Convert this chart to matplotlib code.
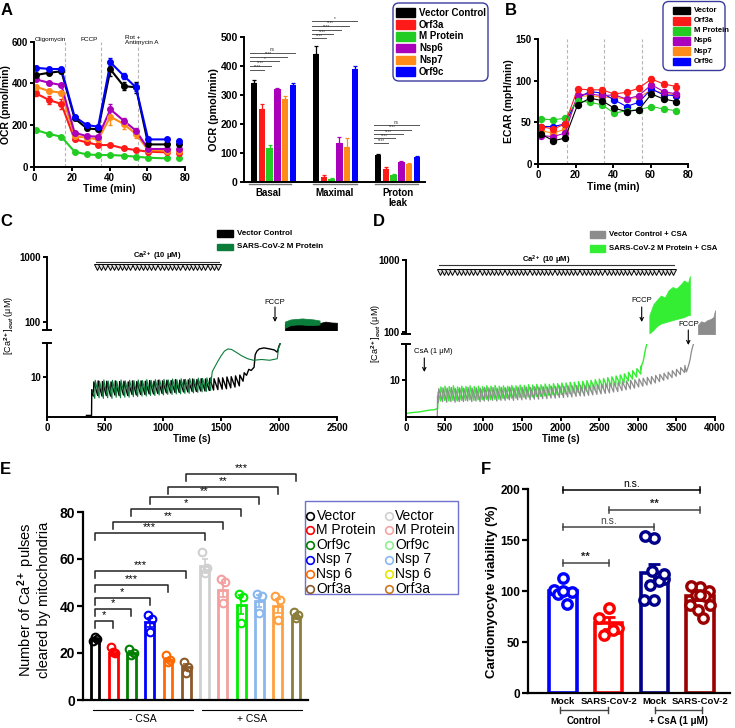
import numpy as np
import matplotlib
matplotlib.use("Agg")
import matplotlib.pyplot as plt
from matplotlib.patches import FancyBboxPatch, Rectangle
from matplotlib.ticker import NullLocator

plt.rcParams['font.family'] = ['Liberation Sans', 'DejaVu Sans']
plt.rcParams['font.weight'] = 'bold'
plt.rcParams['axes.labelweight'] = 'bold'
plt.rcParams['mathtext.fontset'] = 'custom'
plt.rcParams['mathtext.rm'] = 'Liberation Sans'
plt.rcParams['mathtext.bf'] = 'Liberation Sans:bold'
plt.rcParams['mathtext.it'] = 'Liberation Sans:italic'

# ======================= DATA =======================
# Panel A (OCR time course)
A_time = [1, 8, 14.5, 21.5, 28, 34, 40.5, 47.5, 54, 60.5, 70.5, 77]
A_names = ['Vector Control', 'Orf3a', 'M Protein', 'Nsp6', 'Nsp7', 'Orf9c']
A_colors = ['#000000', '#ff1a1a', '#22cc22', '#aa00bb', '#ff8c1a', '#0000ff']
ocr_vector = [440, 451, 458, 232, 184, 179, 467, 387, 381, 107, 107, 107]
ocr_orf3a = [352, 320, 301, 131, 117, 104, 104, 88, 80, 72, 69, 67]
ocr_mprot = [176, 157, 144, 72, 59, 56, 56, 53, 48, 43, 40, 40]
ocr_nsp6 = [419, 403, 392, 163, 147, 144, 275, 221, 173, 85, 85, 85]
ocr_nsp7 = [384, 363, 355, 147, 139, 131, 240, 205, 157, 80, 77, 77]
ocr_orf9c = [475, 469, 469, 240, 200, 192, 501, 437, 381, 131, 131, 125]
ocr_err_vector = [10, 8, 8, 10, 10, 10, 30, 20, 25, 8, 8, 8]
ocr_err_orf3a = [15, 20, 25, 8, 8, 6, 6, 5, 5, 5, 5, 5]
ocr_err_mprot = [5, 5, 5, 4, 4, 4, 4, 3, 3, 3, 3, 3]
ocr_err_nsp6 = [8, 6, 6, 8, 8, 8, 25, 15, 15, 6, 5, 5]
ocr_err_nsp7 = [10, 8, 10, 8, 8, 8, 40, 25, 20, 6, 5, 5]
ocr_err_orf9c = [8, 6, 6, 10, 8, 8, 20, 15, 20, 10, 8, 8]
A_injections = [16.5, 35.5, 55]

# Panel A (bars)
A_groups = ['Basal', 'Maximal', 'Proton\nleak']
bar_basal = [339, 249, 115, 318, 285, 334]
bar_maximal = [442, 17, 9, 134, 121, 388]
bar_proton = [91, 45, 22, 69, 61, 84]
err_basal = [10, 18, 10, 6, 10, 5]
err_maximal = [25, 5, 3, 20, 30, 10]
err_proton = [4, 4, 3, 3, 3, 4]
sig_basal = ['****', '****', '*', '****', 'ns']
sig_maximal = ['****', '****', '****', '****', '*']
sig_proton = ['****', '****', '****', '****', 'ns']
sig_basal_y = [385, 400, 415, 430, 445]
sig_maximal_y = [494, 508, 523, 538, 553]
sig_proton_y = [132, 149, 164, 180, 195]

# Panel B (ECAR)
B_time = [1.4, 8.2, 14.4, 21.1, 27.7, 34.2, 40.6, 47.2, 53.7, 60.5, 67, 73.8]
B_names = ['Vector', 'Orf3a', 'M Protein', 'Nsp6', 'Nsp7', 'Orf9c']
ecar_vector = [36, 28, 31, 71, 79, 76, 67, 63, 65, 84, 78, 75]
ecar_orf3a = [45, 42, 48, 90, 89, 89, 84, 86, 91, 102, 96, 93]
ecar_mprot = [54, 53, 55, 76, 74, 71, 61, 64, 65, 69, 66, 64]
ecar_nsp6 = [34, 33, 37, 83, 84, 82, 83, 78, 82, 95, 87, 84]
ecar_nsp7 = [40, 37, 42, 81, 82, 80, 80, 78, 80, 89, 85, 83]
ecar_orf9c = [45, 45, 48, 79, 87, 85, 77, 69, 74, 90, 83, 82]
ecar_err_orf3a = [3, 3, 3, 3, 3, 3, 3, 3, 3, 4, 4, 4]
B_injections = [15.6, 35.3, 55.2]

# Panel C (Ca2+ retention, M protein vs vector)
C_pulse_start, C_pulse_step = 400, 37
C_black_pre_t = [340, 384, 386]
C_black_pre_y = [2.5, 2.5, 6.3]
C_black_peaks = [8.3, 8.6, 8.4, 8.5, 8.3, 8.6, 8.4, 8.5, 8.3, 8.6, 8.4, 8.6, 8.5, 8.7, 8.5, 8.8, 8.6, 8.8,
                 8.7, 9.0, 8.8, 9.0, 8.9, 9.2, 9.0, 9.3, 9.2, 9.4, 9.3, 9.6, 9.6, 9.9, 10.0, 10.3, 10.6]
C_black_troughs = [5.0, 5.1, 5.0, 5.1, 5.0, 5.2, 5.1, 5.2, 5.1, 5.3, 5.2, 5.3, 5.3, 5.4, 5.4, 5.5, 5.5, 5.6,
                   5.6, 5.7, 5.7, 5.8, 5.8, 5.9, 5.9, 6.0, 6.0, 6.1, 6.2, 6.3, 6.4, 6.5, 6.7, 6.9, 7.2]
C_black_tail_t = [1690, 1700, 1720, 1740, 1760, 1785, 1795, 1810, 1830, 1870, 1920, 1960, 1985, 2000, 2020, 2035]
C_black_tail_y = [8.5, 11.5, 10.5, 13, 12.5, 14, 22, 25, 27, 28, 27, 26, 24, 30, 36, 42]
C_green_pre_t = [396]
C_green_pre_y = [5.8]
C_green_peaks = [8.8, 8.5, 8.9, 8.6, 8.8, 8.5, 8.9, 8.6, 8.8, 8.7, 8.9, 8.7, 9.0, 8.8, 9.0, 8.9, 9.1, 8.9,
                 9.2, 9.0, 9.3, 9.1, 9.4, 9.2, 9.5, 9.4, 9.6, 9.8]
C_green_troughs = [4.6, 4.7, 4.6, 4.7, 4.6, 4.8, 4.7, 4.8, 4.8, 4.9, 4.9, 5.0, 5.0, 5.1, 5.1, 5.2, 5.2, 5.3,
                   5.3, 5.4, 5.4, 5.5, 5.5, 5.6, 5.7, 5.8, 5.9, 6.1]
C_green_tail_t = [1415, 1425, 1440, 1470, 1500, 1530, 1560, 1590, 1630, 1680, 1730, 1780, 1850, 1920, 1985, 1995, 2020, 2035]
C_green_tail_y = [8.5, 12, 13.5, 17, 21, 25, 27, 26.5, 24, 21, 19, 18, 18.5, 18, 19, 27, 36, 42]
C_black_band_t = [2050, 2100, 2150, 2200, 2250, 2300, 2350, 2400, 2450, 2500]
C_black_band_lo = [70, 70, 70, 70, 70, 70, 70, 70, 70, 70]
C_black_band_hi = [92, 98, 95, 100, 96, 98, 95, 100, 97, 96]
C_green_band_t = [2050, 2100, 2150, 2200, 2250, 2300, 2350]
C_green_band_lo = [80, 88, 90, 90, 88, 88, 90]
C_green_band_hi = [100, 108, 110, 112, 110, 108, 104]
C_n_marks, C_marks_range = 30, (431, 1474)

# Panel D (with CsA)
D_pulse_step = 54
D_green_start, D_gray_start = 447, 420
D_green_pre_t = [0, 60, 120, 180, 240, 300, 360, 410, 415]
D_green_pre_y = [3.4, 3.5, 3.55, 3.6, 3.7, 3.8, 3.85, 4.0, 6.8]
D_green_peaks = [8.0, 8.2, 8.1, 8.3, 8.0, 8.2, 8.1, 8.3, 8.1, 8.2,
                 8.1, 8.3, 8.2, 8.4, 8.2, 8.3, 8.2, 8.4, 8.3, 8.5,
                 8.4, 8.6, 8.5, 8.7, 8.6, 8.8, 8.7, 8.9, 8.9, 9.1,
                 9.1, 9.3, 9.3, 9.5, 9.6, 9.8, 9.9, 10.1, 10.3, 10.5,
                 10.8, 11.1, 11.4, 11.8, 12.2, 12.8, 13.5, 14.4, 15.7]
D_green_troughs = [5.1, 5.2, 5.1, 5.2, 5.1, 5.2, 5.2, 5.3, 5.2, 5.3,
                   5.3, 5.4, 5.3, 5.4, 5.4, 5.5, 5.5, 5.6, 5.6, 5.7,
                   5.7, 5.8, 5.8, 5.9, 5.9, 6.0, 6.1, 6.2, 6.2, 6.3,
                   6.4, 6.5, 6.6, 6.7, 6.8, 7.0, 7.1, 7.3, 7.5, 7.7,
                   7.9, 8.2, 8.5, 8.8, 9.2, 9.7, 10.3, 11.0, 12.1]
D_green_tail_t = [3040, 3055, 3070, 3085, 3100, 3115, 3125]
D_green_tail_y = [14, 16.5, 18, 22, 27, 31, 36]
D_green_band_t = [3150, 3200, 3250, 3300, 3350, 3400, 3450, 3500, 3550, 3600, 3650, 3675]
D_green_band_lo = [95, 105, 120, 130, 135, 140, 145, 150, 155, 160, 170, 170]
D_green_band_hi = [170, 240, 280, 320, 300, 380, 420, 400, 450, 520, 480, 600]
D_gray_pre_t = [405, 408]
D_gray_pre_y = [2.9, 6.0]
D_gray_peaks = [7.6, 7.8, 7.7, 7.9, 7.6, 7.8, 7.7, 7.9, 7.7, 7.8,
                7.7, 7.9, 7.8, 7.9, 7.7, 7.9, 7.8, 8.0, 7.8, 8.0,
                7.9, 8.0, 7.9, 8.1, 8.0, 8.1, 8.0, 8.2, 8.1, 8.3,
                8.2, 8.3, 8.3, 8.4, 8.4, 8.5, 8.5, 8.6, 8.7, 8.8,
                8.9, 9.0, 9.2, 9.3, 9.5, 9.7, 9.9, 10.1, 10.4, 10.6,
                10.9, 11.2, 11.6, 12.0, 12.4, 12.9, 13.5, 14.1, 14.9, 16.0]
D_gray_troughs = [4.9, 5.0, 4.9, 5.0, 4.9, 5.0, 5.0, 5.1, 5.0, 5.1,
                  5.0, 5.1, 5.1, 5.2, 5.1, 5.2, 5.2, 5.3, 5.2, 5.3,
                  5.3, 5.4, 5.3, 5.4, 5.4, 5.5, 5.5, 5.6, 5.6, 5.7,
                  5.7, 5.8, 5.8, 5.9, 6.0, 6.0, 6.1, 6.2, 6.3, 6.4,
                  6.5, 6.6, 6.8, 6.9, 7.1, 7.3, 7.5, 7.7, 8.0, 8.2,
                  8.5, 8.8, 9.1, 9.5, 9.9, 10.3, 10.8, 11.3, 11.9, 12.7]
D_gray_tail_t = [3630, 3650, 3665, 3680, 3695, 3710, 3730]
D_gray_tail_y = [13, 15, 17, 20, 25, 29, 34]
D_gray_band_t = [3780, 3820, 3860, 3900, 3940, 3980, 4000]
D_gray_band_lo = [92, 92, 92, 92, 92, 92, 92]
D_gray_band_hi = [125, 140, 135, 145, 150, 160, 200]
D_n_marks, D_marks_range = 57, (440, 3458)

# Panel E (Ca2+ pulses cleared)
E_names = ['Vector', 'M Protein', 'Orf9c', 'Nsp 7', 'Nsp 6', 'Orf3a']
E_colors = ['#000000', '#ff0000', '#008000', '#0000ff', '#ff6a00', '#8b5a2b',
            '#d0d0d0', '#f4a0a0', '#00ee00', '#8ab8ee', '#ffa040', '#8b7d3a']
E_legend_colors2 = ['#d0d0d0', '#f4a4a4', '#90ee90', '#8ab8ee', '#e6e600', '#c87820']
E_bars = [26, 20, 20, 33, 17, 14, 57, 47, 40.5, 42, 40, 35.5]
E_sem = [0.5, 1, 1, 2, 1, 1.3, 3, 3, 4, 2.5, 3, 1]
E_points = [[25, 26, 27], [22.7, 19.9, 20.5], [21.5, 20, 19], [36, 34.3, 29.1], [19, 17, 16],
            [16.3, 14.2, 11.6], [63, 56, 54.2], [51.3, 50.3, 41.1], [45.1, 44, 32.9],
            [44.9, 44.3, 37.2], [44.3, 42.6, 34], [37.6, 36.2, 34.8]]
E_sig = [(0, 1, 33.7, '*'), (0, 2, 38.6, '*'), (0, 3, 43.3, '*'), (0, 4, 48.9, '***'),
         (0, 5, 55.0, '***'), (0, 6, 71.2, '***'), (1, 7, 75.9, '**'), (2, 8, 81.1, '*'),
         (3, 9, 86.3, '**'), (4, 10, 90.8, '**'), (5, 11, 96.0, '***')]

# Panel F (cardiomyocyte viability)
F_labels = ['Mock', 'SARS-CoV-2', 'Mock', 'SARS-CoV-2']
F_colors = ['#0000ff', '#ff0000', '#00008b', '#9b0000']
F_bars = [100.6, 69.2, 118.3, 95.4]
F_sem = [3, 6, 8, 4]
F_points = [[113, 101, 99, 97, 88, 100],
            [84, 74, 64, 57, 62],
            [152, 154, 112, 106, 110, 91, 91, 117, 120],
            [104, 105, 100, 96, 95, 96, 87, 87, 82, 74]]
F_sig = [(0, 3, 199, 'n.s.', '#000000'), (1, 3, 180, '**', '#444444'),
         (0, 2, 163, 'n.s.', '#444444'), (0, 1, 128, '**', '#444444')]

# ======================= FIGURE =======================
W, H = 735, 728
fig = plt.figure(figsize=(W / 100, H / 100), dpi=100)


def px_axes(l, t, r, b):
    return fig.add_axes([l / W, 1 - b / H, (r - l) / W, (b - t) / H])


def style(ax, fs=7, lw=1.4, tl=3):
    for s in ['top', 'right']:
        ax.spines[s].set_visible(False)
    for s in ['left', 'bottom']:
        ax.spines[s].set_linewidth(lw)
    ax.tick_params(direction='out', length=tl, width=lw, labelsize=fs, pad=1.5)


# ---------- Panel A: OCR time course ----------
axA = px_axes(34, 41.7, 185, 166.7)
ocr = [ocr_vector, ocr_orf3a, ocr_mprot, ocr_nsp6, ocr_nsp7, ocr_orf9c]
ocr_err = [ocr_err_vector, ocr_err_orf3a, ocr_err_mprot, ocr_err_nsp6, ocr_err_nsp7, ocr_err_orf9c]
for x in A_injections:
    axA.axvline(x, color='#b5b5b5', ls=(0, (3, 2)), lw=0.8, zorder=0)
for k in [2, 1, 4, 3, 0, 5]:
    axA.errorbar(A_time, ocr[k], yerr=ocr_err[k], color=A_colors[k], ls='none', marker='o', ms=4,
                 capsize=1.5, elinewidth=1, capthick=1)
    axA.plot(A_time[:-1], ocr[k][:-1], color=A_colors[k], lw=1.5)
axA.set_xlim(0, 80)
axA.set_ylim(0, 600)
axA.set_xticks([0, 20, 40, 60, 80])
axA.set_yticks([0, 200, 400, 600])
style(axA, fs=7)
axA.set_xlabel('Time (min)', fontsize=7.5, labelpad=1)
axA.set_ylabel('OCR (pmol/min)', fontsize=7.5, labelpad=0)
axA.text(0.5, 612, 'Oligomycin', fontsize=4.6, weight='normal', va='center', ha='left', clip_on=False)
axA.text(29, 612, 'FCCP', fontsize=4.6, weight='normal', va='center', ha='center', clip_on=False)
axA.text(48, 610, 'Rot +\nAntimycin A', fontsize=4.6, weight='normal', va='center', ha='left',
         linespacing=1.0, clip_on=False)

# ---------- Panel A: bars ----------
axA2 = px_axes(244, 36.7, 425, 181.7)
bars_by_group = [bar_basal, bar_maximal, bar_proton]
errs_by_group = [err_basal, err_maximal, err_proton]
off = 0.126
for k in range(6):
    xs = np.arange(3) + (k - 2.5) * off
    hs = [g[k] for g in bars_by_group]
    es = [g[k] for g in errs_by_group]
    axA2.bar(xs, hs, width=0.105, color=A_colors[k], zorder=2)
    axA2.errorbar(xs, hs, yerr=[[0, 0, 0], es], fmt='none', ecolor=A_colors[k], capsize=1.5,
                  elinewidth=0.9, capthick=0.9, zorder=1)
for g, (labs, ys) in enumerate([(sig_basal, sig_basal_y), (sig_maximal, sig_maximal_y),
                                (sig_proton, sig_proton_y)]):
    x0 = g - 2.5 * off - 0.06
    for k in range(1, 6):
        x1 = g + (k - 2.5) * off + 0.03
        axA2.plot([x0, x1], [ys[k - 1], ys[k - 1]], color='#555555', lw=0.7, clip_on=False)
        axA2.text((x0 + x1) / 2, ys[k - 1] + 2, labs[k - 1], fontsize=3.3, weight='normal',
                  ha='center', va='bottom', color='#333333', clip_on=False)
axA2.set_xlim(-0.476, 2.444)
axA2.set_ylim(0, 500)
axA2.set_yticks([0, 100, 200, 300, 400, 500])
axA2.set_xticks([])
style(axA2, fs=7.5)
axA2.set_ylabel('OCR (pmol/min)', fontsize=7.8, labelpad=1)

# ---------- Panel B: ECAR ----------
axB = px_axes(538, 39, 688, 164)
ecar = [ecar_vector, ecar_orf3a, ecar_mprot, ecar_nsp6, ecar_nsp7, ecar_orf9c]
for x in B_injections:
    axB.axvline(x, color='#b5b5b5', ls=(0, (3, 2)), lw=0.8, zorder=0)
for k in [4, 5, 3, 2, 0, 1]:
    axB.plot(B_time, ecar[k], color=A_colors[k], lw=0.8, marker='o', ms=4.3)
axB.errorbar(B_time, ecar_orf3a, yerr=ecar_err_orf3a, fmt='none', ecolor=A_colors[1], capsize=1.5,
             elinewidth=0.8, capthick=0.8)
axB.set_xlim(0, 80)
axB.set_ylim(0, 150)
axB.set_xticks([0, 20, 40, 60, 80])
axB.set_yticks([0, 50, 100, 150])
style(axB, fs=7)
axB.set_xlabel('Time (min)', fontsize=7.5, labelpad=1)
axB.set_ylabel('ECAR (mpH/min)', fontsize=7.5, labelpad=1)


# ---------- helpers for C/D ----------
def sawtooth(t0, step, peaks, troughs, rise=4):
    ts, ys = [], []
    for i in range(len(peaks)):
        ti = t0 + i * step
        ts += [ti, ti + rise]
        ys += [troughs[i], peaks[i]]
    return ts, ys


def broken_caps(ax_up, ax_lo, width_px):
    f = 4.0 / width_px
    ax_up.plot([-f, f], [0, 0], transform=ax_up.transAxes, color='k', lw=1.4, clip_on=False)
    ax_lo.plot([-f, f], [1, 1], transform=ax_lo.transAxes, color='k', lw=1.4, clip_on=False)


def ca_axes(up_box, lo_box, xmax, up_ylim, lo_ylim, xticks):
    axu = px_axes(*up_box)
    axl = px_axes(*lo_box)
    for a in (axu, axl):
        a.set_yscale('log')
        a.set_xlim(0, xmax)
        style(a, fs=7, tl=3)
        a.yaxis.set_minor_locator(NullLocator())
    axu.set_ylim(*up_ylim)
    axl.set_ylim(*lo_ylim)
    axu.spines['bottom'].set_visible(False)
    axu.set_xticks([])
    axu.set_yticks([100, 1000])
    axu.set_yticklabels(['100', '1000'])
    axl.set_yticks([10])
    axl.set_yticklabels(['10'])
    axl.set_xticks(xticks)
    axl.set_xlabel('Time (s)', fontsize=7, labelpad=1)
    broken_caps(axu, axl, up_box[2] - up_box[0])
    return axu, axl


# ---------- Panel C ----------
axCu, axCl = ca_axes((47, 257.3, 337, 330), (47, 343.3, 337, 416.7), 2500, (74, 1000), (2.39, 33),
                     [0, 500, 1000, 1500, 2000, 2500])
bt, by = sawtooth(C_pulse_start, C_pulse_step, C_black_peaks, C_black_troughs)
gt, gy = sawtooth(C_pulse_start + 12, C_pulse_step, C_green_peaks, C_green_troughs)
C_black_t = C_black_pre_t + bt + C_black_tail_t
C_black_y = C_black_pre_y + by + C_black_tail_y
C_green_t = C_green_pre_t + gt + C_green_tail_t
C_green_y = C_green_pre_y + gy + C_green_tail_y
cgreen = '#0b7d3a'
for a in (axCu, axCl):
    a.plot(C_black_t, C_black_y, color='k', lw=1.0)
    a.plot(C_green_t, C_green_y, color=cgreen, lw=0.8)
    a.fill_between(C_black_band_t, C_black_band_lo, C_black_band_hi, color='k', lw=0.5)
    a.fill_between(C_green_band_t, C_green_band_lo, C_green_band_hi, color=cgreen, lw=0.5)
cm = np.linspace(C_marks_range[0], C_marks_range[1], C_n_marks)
axCu.plot(cm, [700] * len(cm), 'v', ms=4, mfc='#dddddd', mec='k', mew=0.7, clip_on=False)
axCu.plot([cm[0] - 8, cm[-1] + 8], [850, 850], color='#333333', lw=0.8)
axCu.text(cm.mean(), 1030, r'Ca$^{\mathbf{2+}}$ (10 μM)', fontsize=5.5, ha='center', va='center',
          clip_on=False)

# ---------- Panel D ----------
axDu, axDl = ca_axes((406, 260, 715, 334), (406, 344, 715, 416.7), 4000, (93, 1000), (3.08, 31.8),
                     list(range(0, 4001, 500)))
gt, gy = sawtooth(D_green_start, D_pulse_step, D_green_peaks, D_green_troughs)
rt, ry = sawtooth(D_gray_start, D_pulse_step, D_gray_peaks, D_gray_troughs)
D_green_t = D_green_pre_t + gt + D_green_tail_t
D_green_y = D_green_pre_y + gy + D_green_tail_y
D_gray_t = D_gray_pre_t + rt + D_gray_tail_t
D_gray_y = D_gray_pre_y + ry + D_gray_tail_y
dgreen, dgray = '#33ee33', '#8c8c8c'
for a in (axDu, axDl):
    a.plot(D_green_t, D_green_y, color=dgreen, lw=1.0)
    a.plot(D_gray_t, D_gray_y, color=dgray, lw=0.9)
    a.fill_between(D_green_band_t, D_green_band_lo, D_green_band_hi, color=dgreen, lw=0.5)
    a.fill_between(D_gray_band_t, D_gray_band_lo, D_gray_band_hi, color=dgray, lw=0.5)
dm = np.linspace(D_marks_range[0], D_marks_range[1], D_n_marks)
axDu.plot(dm, [690] * len(dm), 'v', ms=4, mfc='#dddddd', mec='k', mew=0.7, clip_on=False)
axDu.plot([dm[0] - 8, dm[-1] + 8], [850, 850], color='#333333', lw=0.8)
axDu.text(1820, 985, r'Ca$^{\mathbf{2+}}$ (10 μM)', fontsize=5.5, ha='center', va='center',
          clip_on=False)

# ---------- Panel E ----------
axE = px_axes(82.7, 465, 308, 700)
xE = np.arange(len(E_bars))
jit3 = [-0.12, 0.12, 0.0]
for i in xE:
    c = E_colors[i]
    axE.bar(i, E_bars[i], width=0.48, facecolor='white', edgecolor=c, lw=2.0, zorder=2)
    axE.errorbar(i, E_bars[i], yerr=E_sem[i], fmt='none', ecolor=c, elinewidth=1.2, capsize=2.5,
                 capthick=1.2, zorder=3)
    axE.plot(i + np.array(jit3), E_points[i], 'o', mfc='none', mec=c, mew=1.5, ms=5.5, zorder=4)
for (i, j, y, lab) in E_sig:
    axE.plot([i, i, j, j], [y - 3, y, y, y - 3], color='#222222', lw=1.1, clip_on=False)
    axE.text((i + j) / 2, y + 0.4, lab, fontsize=8, weight='normal', ha='center', va='bottom',
             clip_on=False)
axE.set_xlim(-0.67, 11.66)
axE.set_ylim(0, 100)
axE.spines['left'].set_bounds(0, 80)
axE.set_yticks([0, 20, 40, 60, 80])
axE.set_xticks([])
style(axE, fs=10, lw=1.6, tl=4)

# ---------- Panel F ----------
axF = px_axes(528, 489.3, 730, 693.3)
jitF = [0.0, -0.2, 0.2, -0.1, 0.1, 0.0, -0.22, 0.22, -0.05, 0.05]
for i in range(4):
    c = F_colors[i]
    axF.bar(i, F_bars[i], width=0.6, facecolor='white', edgecolor=c, lw=2.6, zorder=2)
    axF.errorbar(i, F_bars[i], yerr=F_sem[i], fmt='none', ecolor=c, elinewidth=2, capsize=4,
                 capthick=2, zorder=3)
    n = len(F_points[i])
    axF.plot(i + np.array(jitF[:n]), F_points[i], 'o', mfc='white', mec=c, mew=2.4, ms=6.8, zorder=4)
for (i, j, y, lab, col) in F_sig:
    axF.plot([i, j], [y, y], color=col, lw=1.1, clip_on=False)
    axF.plot([i, i], [y - 3, y + 3], color=col, lw=1.1, clip_on=False)
    axF.plot([j, j], [y - 3, y + 3], color=col, lw=1.1, clip_on=False)
    axF.text((i + j) / 2, y + 1, lab, fontsize=8 if lab == '**' else 7.5,
             weight='bold' if lab == '**' else 'normal', color=col if lab != '**' else '#222222',
             ha='center', va='bottom', clip_on=False)
axF.set_xlim(-0.76, 3.65)
axF.set_ylim(0, 200)
axF.set_yticks([0, 50, 100, 150, 200])
axF.set_xticks(range(4))
axF.set_xticklabels(F_labels)
style(axF, fs=8.5, lw=1.6, tl=4)
axF.tick_params(axis='x', length=0, labelsize=6.8, pad=3)
axF.set_ylabel('Cardiomyocyte viability (%)', fontsize=9.5, labelpad=2)

# bold tick labels everywhere
for a in fig.axes:
    for lab in a.get_xticklabels() + a.get_yticklabels():
        lab.set_fontweight('bold')

# ======================= OVERLAY (pixel coords) =======================
ov = fig.add_axes([0, 0, 1, 1])
ov.set_xlim(0, W)
ov.set_ylim(H, 0)
ov.axis('off')
ov.patch.set_alpha(0)

# panel letters
for lab, x, y in [('A', 1, 3), ('B', 505, 3), ('C', 0, 214), ('D', 373, 214), ('E', 0, 462), ('F', 481, 462)]:
    ov.text(x, y, lab, fontsize=12, weight='bold', ha='left', va='top')

# legend A
ov.add_patch(FancyBboxPatch((393, 3), 95, 78, boxstyle='round,pad=0,rounding_size=6',
                            fc='white', ec='#3b3b9e', lw=1.0))
for k, name in enumerate(A_names):
    y = 12.7 + k * 11.8
    ov.add_patch(Rectangle((396, y - 4.3), 19, 8.6, color=A_colors[k]))
    ov.text(419, y, name, fontsize=7, weight='bold', va='center', ha='left')

# bar group labels A
for (x0, x1, name, xc) in [(249, 291, 'Basal', 268), (313, 357, 'Maximal', 335), (375, 418, 'Proton', 398)]:
    ov.plot([x0, x1], [184.3, 184.3], color='#777777', lw=1.0)
    ov.text(xc, 192.5, name, fontsize=7, weight='bold', ha='center', va='center')
ov.text(398, 202.5, 'leak', fontsize=7, weight='bold', ha='center', va='center')

# legend B
ov.add_patch(FancyBboxPatch((663, 1.5), 62, 69, boxstyle='round,pad=0,rounding_size=6',
                            fc='white', ec='#3b3b9e', lw=1.0))
for k, name in enumerate(B_names):
    y = 10.7 + k * 10.1
    ov.add_patch(Rectangle((673, y - 3.7), 17, 7.4, color=A_colors[k]))
    ov.text(694, y, name, fontsize=5.5, weight='bold', va='center', ha='left')

# legend C / D
ov.add_patch(Rectangle((217, 230.3), 16, 6.5, color='k'))
ov.text(237, 233.5, 'Vector Control', fontsize=5.8, weight='bold', va='center')
ov.add_patch(Rectangle((217, 243.5), 16, 6.5, color=cgreen))
ov.text(237, 246.7, 'SARS-CoV-2 M Protein', fontsize=5.8, weight='bold', va='center')
ov.add_patch(Rectangle((590, 230.5), 15, 7, color=dgray))
ov.text(609, 234, 'Vector Control + CSA', fontsize=5.6, weight='bold', va='center')
ov.add_patch(Rectangle((590, 244.5), 15, 7, color=dgreen))
ov.text(609, 248, 'SARS-CoV-2 M Protein + CSA', fontsize=5.6, weight='bold', va='center')

# C / D annotations
arw = dict(arrowstyle='->', lw=0.8, color='k', shrinkA=0, shrinkB=0, mutation_scale=6)
ov.text(275, 302.5, 'FCCP', fontsize=5.5, weight='normal', ha='center', va='center')
ov.annotate('', xy=(275, 322), xytext=(275, 307), arrowprops=arw)
ov.text(641.7, 301, 'FCCP', fontsize=5.5, weight='normal', ha='center', va='center')
ov.annotate('', xy=(641.7, 322), xytext=(641.7, 307), arrowprops=arw)
ov.text(688.3, 325, 'FCCP', fontsize=5.5, weight='normal', ha='center', va='center')
ov.annotate('', xy=(688.3, 345), xytext=(688.3, 330), arrowprops=arw)
ov.text(433, 351.7, 'CsA (1 μM)', fontsize=5.5, weight='normal', ha='center', va='center')
ov.annotate('', xy=(424.3, 372), xytext=(424.3, 358), arrowprops=arw)
ov.text(9, 325, r'[Ca$^{2+}$]$_{out}$ (μM)', fontsize=6.5, weight='normal', rotation=90,
        ha='center', va='center')
ov.text(376, 333, r'[Ca$^{2+}$]$_{out}$ (μM)', fontsize=6.5, weight='normal', rotation=90,
        ha='center', va='center')

# E labels
ov.text(33, 600, 'Number of Ca$^{2+}$ pulses\ncleared by mitochondria', fontsize=10.5, weight='normal',
        rotation=90, ha='center', va='center', linespacing=1.05)
ov.plot([93, 193], [710, 710], color='k', lw=0.8)
ov.plot([202, 302], [710, 710], color='k', lw=0.8)
ov.text(143, 718.5, '- CSA', fontsize=7.5, weight='normal', ha='center', va='center')
ov.text(252, 718.5, '+ CSA', fontsize=7.5, weight='normal', ha='center', va='center')

# legend E
ov.add_patch(Rectangle((305, 501), 153, 93, fc='white', ec='#7070d0', lw=1.0))
for k, name in enumerate(E_names):
    y = 515.7 + k * 14.6
    ov.plot(310.5, y, 'o', mfc='none', mec=E_colors[k], mew=1.2, ms=5.5)
    ov.text(316.5, y, name, fontsize=10, weight='normal', va='center', ha='left')
    ov.plot(389, y, 'o', mfc='none', mec=E_legend_colors2[k], mew=1.2, ms=5.5)
    ov.text(395, y, name, fontsize=10, weight='normal', va='center', ha='left')

# F group labels
for (x0, x1, name) in [(560, 608, 'Control'), (655, 702, '+ CsA (1 μM)')]:
    ov.plot([x0, x1], [710, 710], color='#444444', lw=1.0)
    ov.plot([x0, x0], [707, 713], color='#444444', lw=1.0)
    ov.plot([x1, x1], [707, 713], color='#444444', lw=1.0)
    ov.text((x0 + x1) / 2, 721.5, name, fontsize=7, weight='bold', ha='center', va='center')

fig.savefig('out.png', dpi=100)
